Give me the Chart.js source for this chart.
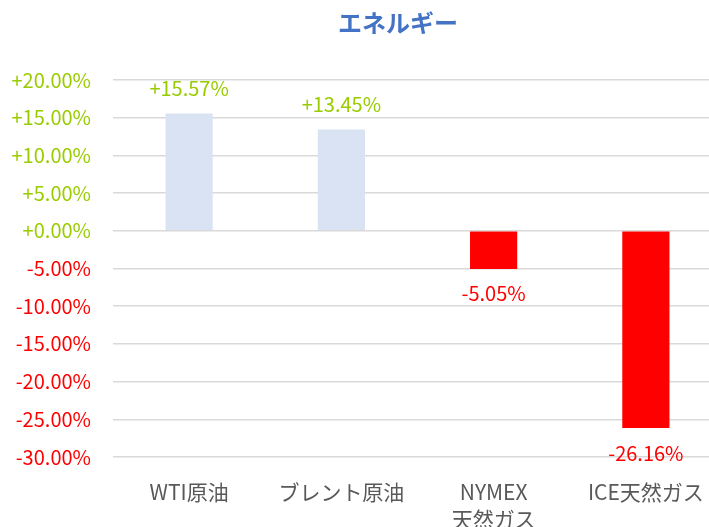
<!DOCTYPE html>
<html>
<head>
<meta charset="utf-8">
<script src="https://cdn.jsdelivr.net/npm/chart.js@4"></script>
<style>
  html, body { margin: 0; padding: 0; overflow: hidden; background: #fff; }
  #wrap { width: 722px; height: 527px; }
</style>
</head>
<body>
<div id="wrap"><canvas id="barChart"></canvas></div>
<script>
const categories = ['WTI原油', 'ブレント原油', ['NYMEX', '天然ガス'], 'ICE天然ガス'];
const changes = [15.57, 13.45, -5.05, -26.16];
const yMin = -30;
const yMax = 20;
const yStep = 5;
const titleText = 'エネルギー';

const green = '#99cc00';
const red = '#ff0000';
const font = '"Noto Sans CJK JP", "Liberation Sans", sans-serif';

const fmt = v => (v >= 0 ? '+' : '') + v.toFixed(2) + '%';

// title sits a bit left of the plot centre, like the original
const chartTitle = {
   id: 'chartTitle',
   afterDraw(chart) {
      const ctx = chart.ctx;
      ctx.save();
      ctx.font = 'bold 24px ' + font;
      ctx.fillStyle = '#4472c4';
      ctx.textAlign = 'center';
      ctx.textBaseline = 'middle';
      ctx.fillText(titleText, 398, 23);
      ctx.restore();
   }
};

// value labels above / below each bar
const barLabels = {
   id: 'barLabels',
   afterDatasetsDraw(chart) {
      const ctx = chart.ctx;
      const meta = chart.getDatasetMeta(0);
      ctx.save();
      ctx.font = '20px ' + font;
      ctx.textAlign = 'center';
      ctx.textBaseline = 'middle';
      meta.data.forEach((bar, i) => {
         const v = changes[i];
         ctx.fillStyle = v >= 0 ? green : red;
         ctx.fillText(fmt(v), bar.x, v >= 0 ? bar.y - 25 : bar.y + 25);
      });
      ctx.restore();
   }
};

new Chart(document.getElementById('barChart'), {
   type: 'bar',
   data: {
      labels: categories,
      datasets: [{
         data: changes,
         backgroundColor: c => c.raw >= 0 ? '#dae3f3' : red,
         barPercentage: 0.31,
         categoryPercentage: 1
      }]
   },
   plugins: [barLabels, chartTitle],
   options: {
      responsive: true,
      maintainAspectRatio: false,
      animation: false,
      layout: { padding: { left: 10, right: 0, top: 80, bottom: 0 } },
      plugins: {
         legend: { display: false },
         tooltip: { enabled: false },
         title: { display: false }
      },
      scales: {
         x: {
            grid: { display: false },
            border: { display: false },
            ticks: {
               color: '#595959',
               padding: 14,
               maxRotation: 0,
               font: { family: font, size: 21, lineHeight: 1.27 }
            },
            afterFit: s => { s.height = 70; }
         },
         y: {
            min: yMin,
            max: yMax,
            grid: { color: '#d9d9d9', lineWidth: 1.5, drawTicks: false },
            border: { display: false },
            ticks: {
               stepSize: yStep,
               padding: 22,
               color: c => c.tick.value >= 0 ? green : red,
               font: { family: font, size: 20 },
               callback: v => fmt(v)
            },
            afterFit: s => { s.width = 103; }
         }
      }
   }
});
</script>
</body>
</html>
